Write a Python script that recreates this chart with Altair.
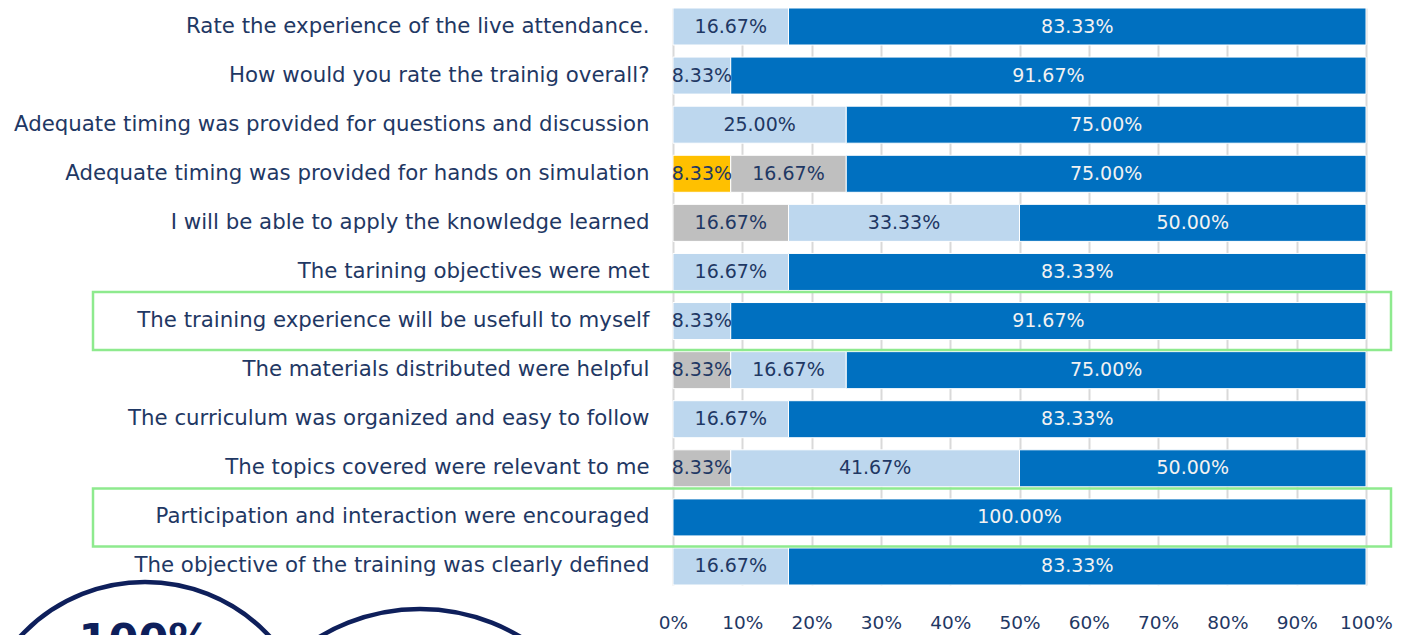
import altair as alt
import pandas as pd

questions = [
    "Rate the experience of the live attendance.",
    "How would you rate the trainig overall?",
    "Adequate timing was provided for questions and discussion",
    "Adequate timing was provided for hands on simulation",
    "I will be able to apply the knowledge learned",
    "The tarining objectives were met",
    "The training experience will be usefull to myself",
    "The materials distributed were helpful",
    "The curriculum was organized and easy to follow",
    "The topics covered were relevant to me",
    "Participation and interaction were encouraged",
    "The objective of the training was clearly defined",
]
series_names = ["Orange", "Gray", "Light", "Dark"]
orange = [0, 0, 0, 8.33, 0, 0, 0, 0, 0, 0, 0, 0]
gray = [0, 0, 0, 16.67, 16.67, 0, 0, 8.33, 0, 8.33, 0, 0]
light = [16.67, 8.33, 25.00, 0, 33.33, 16.67, 8.33, 16.67, 16.67, 41.67, 0, 16.67]
dark = [83.33, 91.67, 75.00, 75.00, 50.00, 83.33, 91.67, 75.00, 83.33, 50.00, 100.00, 83.33]
series_colors = ["#FFC000", "#BFBFBF", "#BDD7EE", "#0070C0"]
highlighted = [
    "The training experience will be usefull to myself",
    "Participation and interaction were encouraged",
]
x_ticks = [0, 10, 20, 30, 40, 50, 60, 70, 80, 90, 100]

rows = []
for i, q in enumerate(questions):
    for k, (name, vals) in enumerate(zip(series_names, [orange, gray, light, dark])):
        v = vals[i]
        if v > 0:
            rows.append({"q": q, "series": name, "order": k, "value": v,
                         "label": f"{v:.2f}%",
                         "tcolor": "#F2F2F2" if name == "Dark" else "#1F3864"})
df = pd.DataFrame(rows)
hl = pd.DataFrame({"q": highlighted})

FONT = "DejaVu Sans"
NAVY = "#1F3864"

yenc = alt.Y("q:N", sort=questions, title=None,
             scale=alt.Scale(paddingInner=0.246, paddingOuter=0),
             axis=alt.Axis(labelFontSize=21.3, labelColor=NAVY, labelPadding=24,
                           ticks=False, domain=False, labelLimit=1000, labelFont=FONT))

base = alt.Chart(df).transform_stack(
    stack="value", groupby=["q"], as_=["x0", "x1"],
    sort=[alt.SortField("order", order="ascending")]
).transform_calculate(mid="(datum.x0 + datum.x1) / 2")

bars = base.mark_bar(stroke="white", strokeWidth=1).encode(
    x=alt.X("x0:Q", scale=alt.Scale(domain=[0, 100]), title=None,
            axis=alt.Axis(values=x_ticks, labelExpr="datum.value + '%'",
                          grid=True, gridColor="#D9D9D9", gridWidth=2,
                          ticks=False, domain=False, labelPadding=28, labelFlush=False,
                          labelFontSize=18.5, labelColor=NAVY, labelFont=FONT)),
    x2="x1:Q",
    y=yenc,
    color=alt.Color("series:N", scale=alt.Scale(domain=series_names, range=series_colors), legend=None),
)

texts = base.mark_text(fontSize=19, font=FONT, baseline="middle", align="center").encode(
    x="mid:Q",
    y=alt.Y("q:N", sort=questions),
    text="label:N",
    color=alt.Color("tcolor:N", scale=None),
)

boxes = alt.Chart(hl).mark_bar(size=58, fillOpacity=0, stroke="#8EEA8E", strokeWidth=2.5).encode(
    y=alt.Y("q:N", sort=questions),
    x=alt.value(-580),
    x2=alt.value(718),
)

deco = pd.DataFrame({"k": [1, 2]})
circ1 = alt.Chart(deco.iloc[[0]]).mark_point(shape="circle", filled=False, stroke="#0E1F5B",
                                             strokeWidth=4.5, size=340 * 340, opacity=1).encode(
    x=alt.value(-528), y=alt.value(744))
circ2 = alt.Chart(deco.iloc[[1]]).mark_point(shape="circle", filled=False, stroke="#0E1F5B",
                                             strokeWidth=4.5, size=390 * 390, opacity=1).encode(
    x=alt.value(-253), y=alt.value(796))
big = alt.Chart(pd.DataFrame({"t": ["100%"]})).mark_text(
    fontSize=43, fontWeight="bold", font=FONT, color="#0E1F5B", align="center",
    baseline="alphabetic").encode(text="t:N", x=alt.value(-528), y=alt.value(646))

chart = alt.layer(bars, texts, boxes, circ1, circ2, big).properties(
    width=693, height=577, autosize="none",
    padding={"left": 665, "top": 0, "right": 27, "bottom": 50},
).configure_view(stroke=None)

chart.save("out.html", embed_options={"renderer": "svg", "actions": False})
